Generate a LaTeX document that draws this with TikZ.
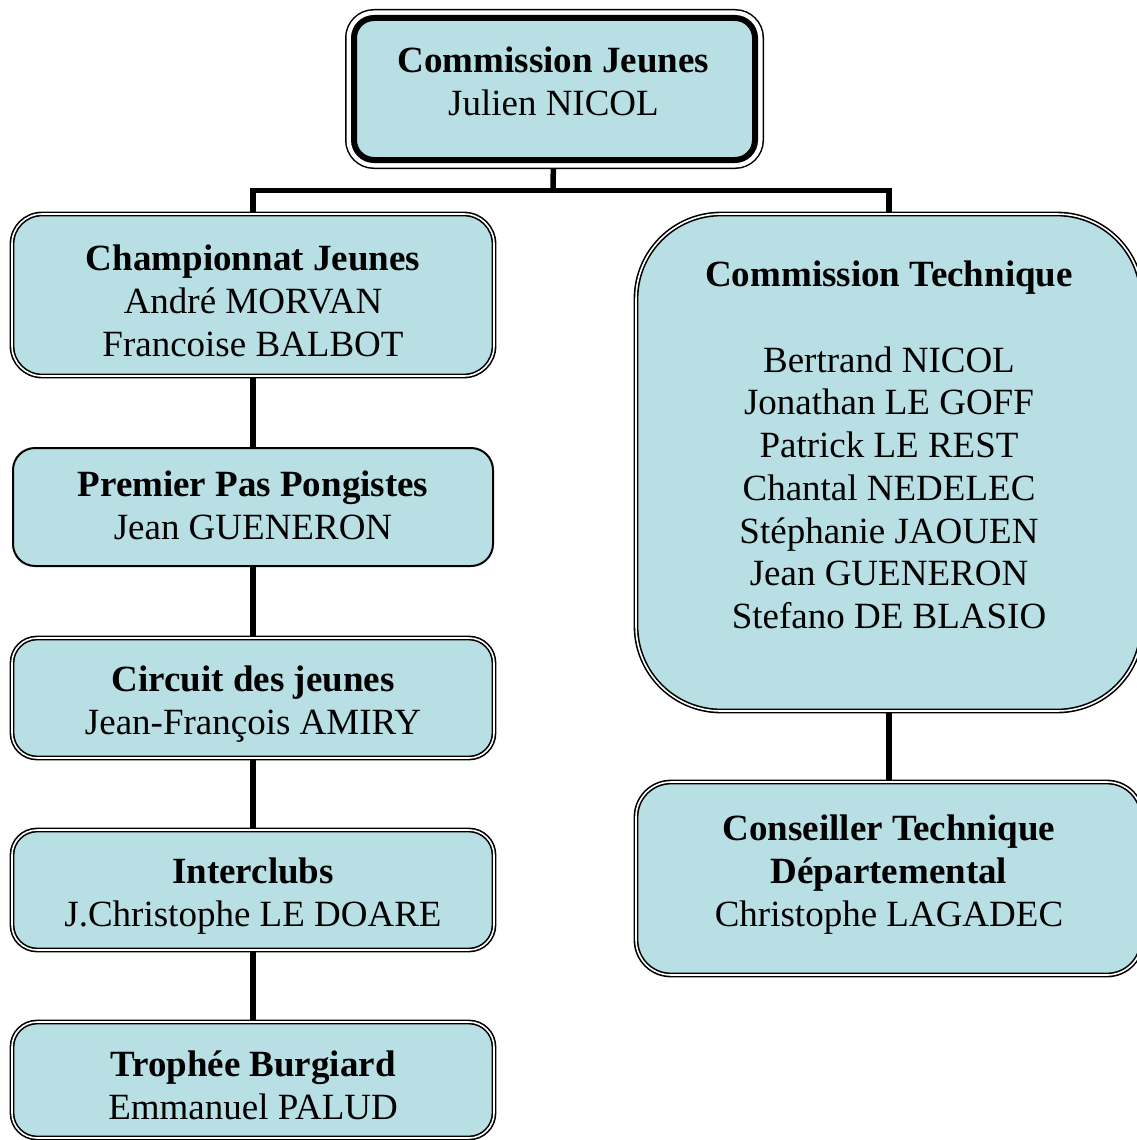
\documentclass[tikz,border=0pt]{standalone}
\usepackage{fontspec}
\setmainfont{Liberation Serif}
\usetikzlibrary{positioning,backgrounds}
\definecolor{boxblue}{RGB}{184,223,227}
\tikzset{
    orgbox/.style={
           rectangle,
           rounded corners=#1,
           fill=boxblue,
           draw=black, line width=1.6pt,
           double=white, double distance=1.6pt,
           inner sep=0pt,
           },
    orgbox/.default=25pt,
    plainbox/.style={
           rectangle,
           rounded corners=22pt,
           fill=boxblue,
           draw=black, line width=2pt,
           inner sep=0pt,
           },
    headbox/.style={
           rectangle,
           rounded corners=20pt,
           fill=boxblue,
           preaction={draw=black, line width=18pt},
           preaction={draw=white, line width=15pt},
           draw=black, line width=6pt,
           inner sep=0pt,
           },
    boxtext/.style={
           align=center,
           inner sep=0pt,
           font=\fontsize{37}{42.7}\selectfont,
           },
    link/.style={line width=5.5pt},
}

\begin{document}
\begin{tikzpicture}[x=1pt,y=-1pt]
 \useasboundingbox (0,0) rectangle (1136,1140);

 % head of the commission
 \node[headbox, minimum width=401pt, minimum height=142pt] (head) at (554.5,89) {};
 \node[boxtext] (headtxt) at (553.5,81)
 {\textbf{Commission Jeunes}\\Julien NICOL};

 % left column
 \node[orgbox=30pt, minimum width=482pt, minimum height=162pt] (champ) at (253,295) {};
 \node[boxtext] (champtxt) at (253,301)
 {\textbf{Championnat Jeunes}\\André MORVAN\\Francoise BALBOT};
 \node[plainbox, minimum width=480pt, minimum height=118pt] (ppp) at (253,507) {};
 \node[boxtext] (ppptxt) at (253,505)
 {\textbf{Premier Pas Pongistes}\\Jean GUENERON};
 \node[orgbox, minimum width=482pt, minimum height=120pt] (circuit) at (253,698) {};
 \node[boxtext] (circuittxt) at (253,704)
 {\textbf{Circuit des jeunes}\\Jean-François AMIRY};
 \node[orgbox, minimum width=482pt, minimum height=120pt] (inter) at (253,890) {};
 \node[boxtext] (intertxt) at (253,896)
 {\textbf{Interclubs}\\J.Christophe LE DOARE};
 \node[orgbox, minimum width=482pt, minimum height=116pt] (trophee) at (253,1080) {};
 \node[boxtext] (tropheetxt) at (253,1085)
 {\textbf{Trophée Burgiard}\\Emmanuel PALUD};

 % right column
 \node[orgbox=85pt, minimum width=506pt, minimum height=497pt] (tech) at (889,462.5) {};
 \node[boxtext] (techtxt) at (889,445)
 {\textbf{Commission Technique}\\[42.7pt]
  Bertrand NICOL\\Jonathan LE GOFF\\Patrick LE REST\\Chantal NEDELEC\\
  Stéphanie JAOUEN\\Jean GUENERON\\Stefano DE BLASIO};
 \node[orgbox=35pt, minimum width=506pt, minimum height=193pt] (ctd) at (889,878.5) {};
 \node[boxtext] (ctdtxt) at (889,874.5)
 {\textbf{Conseiller Technique}\\\textbf{Départemental}\\Christophe LAGADEC};

 \coordinate (fork) at (553,190.5);

 \begin{pgfonlayer}{background}
  \draw[link] (head) -- (fork);
  \draw[link] (fork) -| (champ);
  \draw[link] (fork) -| (tech);
  \draw[link] (champ) -- (ppp) -- (circuit) -- (inter) -- (trophee);
  \draw[link] (tech) -- (ctd);
 \end{pgfonlayer}

\end{tikzpicture}
\end{document}
